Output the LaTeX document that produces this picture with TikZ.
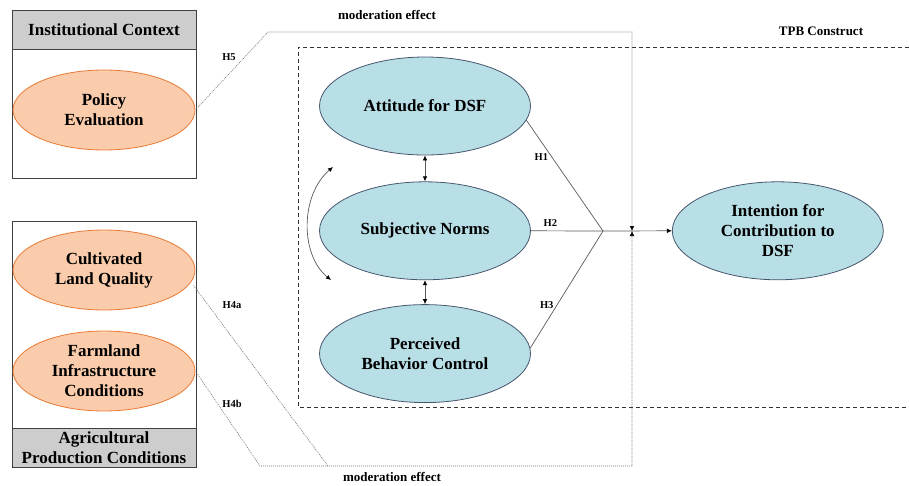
\documentclass[tikz,border=0pt]{standalone}
\usepackage{fontspec}
\setmainfont{Liberation Serif}
\usepackage{xcolor}
\usetikzlibrary{shapes.geometric, arrows.meta, positioning, calc}

\definecolor{tpbfill}{RGB}{185,223,230}
\definecolor{tpbedge}{RGB}{70,86,110}
\definecolor{condfill}{RGB}{250,204,171}
\definecolor{condedge}{RGB}{232,122,52}
\definecolor{headgray}{RGB}{205,205,205}

\begin{document}
\begin{tikzpicture}[x=1pt, y=-1pt,
  big/.style={font=\bfseries\fontsize{17}{20}\selectfont},
  tpb/.style={ellipse, draw=tpbedge, fill=tpbfill, line width=0.8pt, minimum width=211pt, minimum height=98pt, inner sep=0pt, align=center, big},
  cond/.style={ellipse, draw=condedge, fill=condfill, line width=0.8pt, minimum width=182pt, minimum height=80pt, inner sep=0pt, align=center, big},
  panel/.style={rectangle, draw=black!75, line width=1pt, minimum width=184pt, inner sep=0pt},
  head/.style={panel, fill=headgray, minimum height=39pt, align=center, big},
  hlab/.style={font=\bfseries\fontsize{10.5}{12}\selectfont},
  note/.style={font=\bfseries\fontsize{13}{15}\selectfont},
  tpbline/.style={draw=black!80, line width=1pt, dash pattern=on 4pt off 3pt},
  modline/.style={draw=black!55, line width=0.6pt, dash pattern=on 1pt off 1pt},
  link/.style={draw=black!65, line width=0.7pt},
  headtip/.tip={Latex[length=5pt,width=4.5pt,black]}
]
  \useasboundingbox (0,0) rectangle (909,485);

  % left panels
  \node[panel, minimum height=168pt] (instbox) at (104,94) {};
  \node[head, anchor=north] (insthead) at (instbox.north) {Institutional Context};
  \node[cond] (pe) at (104,110) {Policy\\Evaluation};

  \node[panel, minimum height=246pt] (agribox) at (104,344) {};
  \node[head, anchor=south] (agrihead) at (agribox.south) {Agricultural\\Production Conditions};
  \node[cond] (clq) at (104,270) {Cultivated\\Land Quality};
  \node[cond] (fic) at (104,371) {Farmland\\Infrastructure\\Conditions};

  % TPB construct
  \draw[tpbline] (909,47) -- (298,47) -- (298,407) -- (909,407);
  \node[note] (tpbtitle) at (821,31) {TPB Construct};

  \node[tpb] (att) at (425,106) {Attitude for DSF};
  \node[tpb, below=26pt of att] (sn) {Subjective Norms};
  \node[tpb, below=24pt of sn] (pbc) {Perceived\\Behavior Control};
  \node[tpb, right=141pt of sn] (int) {Intention for\\Contribution to\\DSF};

  \draw[link, headtip-headtip] (att) -- (sn);
  \draw[link, headtip-headtip] (sn) -- (pbc);
  \coordinate (ca) at (333,167);
  \coordinate (cb) at (331,280);
  \draw[link, headtip-headtip] (ca) .. controls (300,195) and (300,255) .. (cb);

  \coordinate (join) at (603,231);
  \draw[link] (att.-8) -- node[hlab, left=0pt, pos=0.33] {H1} (join);
  \draw[link] (sn.east) -- node[hlab, above=1pt, pos=0.27] {H2} (join);
  \draw[link] (pbc.3) -- node[hlab, left=0pt, pos=0.37] {H3} (join);
  \draw[link, -headtip] (join) -- (int.west);

  % moderation paths
  \coordinate (hit) at (632,231);
  \coordinate (mtl) at (268,32);
  \coordinate (mtr) at (632,32);
  \coordinate (mbl) at (260,466);
  \coordinate (mbr) at (632,466);
  \coordinate (mba) at (328,466);
  \draw[modline, -headtip, shorten <=4pt] (pe.east) -- (mtl) -- (mtr) -- (hit);
  \draw[modline, -headtip, shorten <=2pt] (fic.east) -- (mbl) -- (mbr) -- (hit);
  \draw[modline, shorten <=4pt] (clq.-8) -- (mba);
  \node[hlab] (h5) at (229,57) {H5};
  \node[hlab] (h4a) at (232,305) {H4a};
  \node[hlab] (h4b) at (232,404) {H4b};
  \node[note] (modtop) at (387,15) {moderation effect};
  \node[note] (modbot) at (392,477) {moderation effect};
\end{tikzpicture}
\end{document}
